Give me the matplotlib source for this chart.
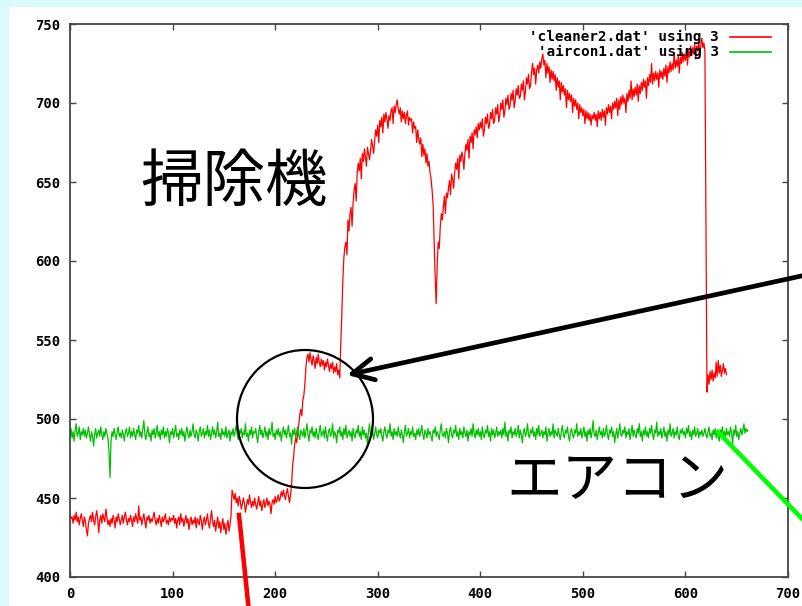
import numpy as np
import matplotlib.pyplot as plt
from matplotlib.patches import Ellipse, Rectangle, FancyArrowPatch
from matplotlib.lines import Line2D

# column 3 of cleaner2.dat, one sample per step
cleaner = [
    # idle
    440, 437, 438, 434, 439, 436, 441, 435, 438, 433, 437, 440, 436, 432, 438, 435, 430, 426, 434, 437,
    439, 435, 441, 436, 433, 438, 442, 437, 428, 436, 439, 434, 440, 437, 435, 443, 438, 433, 436, 432,
    437, 434, 439, 436, 431, 438, 435, 440, 437, 433, 436, 439, 434, 438, 441, 436, 433, 437, 435, 439,
    436, 432, 438, 435, 440, 437, 434, 445, 436, 438, 433, 437, 440, 435, 431, 438, 436, 439, 434, 437,
    435, 438, 441, 436, 433, 437, 434, 439, 436, 432, 438, 435, 437, 440, 434, 436, 433, 438, 435, 437,
    436, 439, 434, 437, 431, 436, 438, 433, 440, 435, 437, 432, 436, 439, 434, 437, 430, 435, 438, 433,
    436, 434, 438, 431, 437, 435, 433, 439, 436, 430, 435, 438, 433, 436, 440, 434, 431, 437, 442, 435,
    432, 436, 429, 434, 438, 431, 435, 428, 433, 437, 430, 434, 427, 432, 436, 429, 433, 439,
    # switched on
    455, 452, 449, 453, 447, 450, 445, 451, 448, 443, 446, 450, 447, 441, 445, 449, 446, 452, 447, 444,
    448, 445, 450, 446, 443, 447, 451, 445, 448, 442, 446, 449, 444, 447, 450, 445, 448, 446, 440, 447,
    449, 446, 451, 447, 449, 452, 448, 450, 454, 451, 455, 452, 449, 453, 456, 451, 447, 452, 458,
    470, 476, 484, 488, 485, 491, 496, 503, 506, 502, 512, 515, 522, 533, 539,
    541, 536, 542, 538, 534, 540, 537, 532, 539, 535, 541, 536, 533, 538, 534, 537, 531, 536, 533, 538,
    534, 530, 535, 532, 536, 529, 533, 530, 535, 528, 531, 526,
    # full power
    548, 566, 588, 602, 609, 612, 604, 626, 619, 630, 634, 622, 637, 645, 649, 638, 656, 662,
    657, 665, 652, 668, 663, 671, 666, 660, 672, 668, 664, 670, 677, 673, 668, 676, 683, 679, 686, 675, 689,
    685, 691, 681, 693, 688, 694, 690, 684, 692, 689, 695, 697, 687, 698, 694, 699, 702, 696,
    693, 697, 688, 695, 690, 694, 687, 692, 695, 686, 691, 689, 690, 681, 688, 684, 685, 675, 683, 677,
    674, 678, 666, 674, 667, 671, 662, 668, 660, 663, 656, 652, 645, 636, 612, 590,
    573,
    598, 612, 608, 622, 630, 626, 634, 641, 630, 643, 640, 646, 651, 642, 655, 652, 646, 656, 662, 658,
    665, 652, 667,
    663, 669, 666, 658, 668, 674, 670, 677, 665, 679, 675, 681, 671, 683, 680, 685, 678, 687, 683, 688,
    684, 690, 679, 683, 691, 687, 693, 684, 686, 694, 690, 696, 687, 689, 697, 693, 699, 688, 692, 700,
    696, 702, 691, 695, 703, 699, 705, 696, 698, 706,
    702, 708, 697, 701, 709, 705, 711, 703, 704, 712, 708, 714, 702, 707, 716, 712, 718, 709, 711, 720,
    725, 718, 722, 712, 721, 724, 719, 726, 722, 728, 731, 724, 727, 716, 725, 719, 723, 713, 721, 715,
    720, 714, 718, 708, 716, 710, 714, 702, 713, 707, 711, 705, 709, 697, 708, 702, 706, 701, 705, 694,
    703, 698, 702, 696, 700, 690, 699, 694, 697, 692, 696, 687, 695, 690, 694, 689, 693, 686, 692, 690,
    694, 689, 693, 685, 695, 690, 694, 689, 696, 691, 695, 686, 697, 693, 699, 694, 698, 690, 700, 696,
    701, 697, 703, 692, 702, 696, 704, 699, 705, 700, 703, 694, 706, 701, 708, 703, 714, 702, 709, 704,
    710, 705, 712, 701, 711, 706, 713, 708, 715, 710, 714, 703, 716, 711, 718, 713, 725, 712, 719, 714,
    720, 715, 719, 710, 721, 716, 720, 715, 722, 717, 724, 713, 723, 719, 726, 720, 725, 721, 732, 722,
    727, 723, 730, 719, 729, 725, 732, 726, 731, 727, 734, 724, 733, 729, 736, 730, 735, 731, 738, 728,
    736, 733, 739, 730, 737, 741, 735, 738, 733,
    # switched off
    627,
    517, 528, 522, 530, 525, 531, 524, 529, 526, 536, 527, 537, 529, 534, 527, 531, 535, 529, 532, 528,
]

# column 3 of aircon1.dat
aircon = [
    490, 494, 488, 492, 486, 493, 497, 489, 491, 495, 487, 492, 490, 494, 489, 493, 488, 491, 495, 490,
    486, 492, 489, 483, 490, 494, 488, 491, 493, 489, 495, 490, 487, 492, 489, 494, 491, 488, 480, 463,
    486, 492, 489, 494, 490, 487, 492, 495, 489, 491, 488, 493, 490, 486, 492, 494, 489, 491, 495, 488,
    492, 489, 494, 490, 487, 493, 491, 496, 489, 492, 488, 494, 499, 490, 487, 492, 495, 489, 491, 486,
    493, 490, 494, 488, 491, 496, 489, 492, 487, 493, 490, 495, 488, 492, 489, 494, 491, 485, 492, 490,
    494, 488, 492, 496, 489, 491, 487, 493, 490, 494, 489, 492, 486, 491, 495, 490, 488, 493, 489, 492,
    497, 490, 488, 493, 491, 486, 492, 495, 489, 491, 494, 488, 492, 490, 496, 489, 493, 487, 491, 495,
    490, 493, 488, 492, 498, 489, 491, 487, 494, 490, 492, 489, 495, 488, 491, 493, 486, 492, 490, 494,
    489, 492, 496, 490, 487, 493, 491, 494, 488, 492, 490, 497, 489, 491, 486, 493, 490, 495, 488, 492,
    491, 494, 489, 485, 492, 496, 490, 493, 488, 491, 495, 489, 492, 487, 494, 490, 492, 498, 489, 491,
    487, 493, 490, 494, 489, 492, 486, 491, 495, 490, 493, 488, 492, 496, 489, 491, 484, 493, 490, 494,
    488, 492, 495, 490, 487, 493, 491, 489, 494, 488, 492, 497, 490, 486, 493, 491, 495, 489, 492, 488,
    494, 490, 487, 492, 496, 489, 491, 493, 488, 495, 490, 486, 492, 494, 489, 491, 497, 488, 492, 490,
    485, 493, 491, 495, 489, 492, 487, 494, 490, 496, 488, 491, 493, 489, 492, 486, 494, 490, 488, 493,
    491, 496, 489, 492, 487, 495, 490, 493, 488, 491, 484, 492, 497, 490, 489, 493, 487, 491, 495, 490,
    488, 493, 491, 494, 489, 486, 492, 495, 490, 488, 493, 491, 497, 489, 492, 487, 494, 490, 492, 489,
    495, 491, 488, 493, 490, 485, 492, 496, 489, 491, 494, 488, 492, 490, 495, 489, 491, 487, 493, 490,
    494, 489, 492, 496, 490, 487, 493, 491, 488, 494, 490, 492, 489, 486, 493, 491, 495, 489, 492, 490,
    487, 493, 497, 490, 489, 492, 488, 494, 491, 485, 492, 495, 490, 488, 493, 491, 496, 489, 492, 487,
    494, 490, 492, 488, 495, 491, 489, 493, 486, 492, 490, 494, 489, 497, 491, 488, 493, 490, 494, 489,
    492, 487, 495, 490, 488, 493, 491, 496, 489, 492, 486, 494, 490, 493, 488, 491, 495, 489, 492, 490,
    493, 488, 494, 490, 498, 489, 492, 486, 493, 491, 495, 488, 492, 490, 494, 489, 491, 496, 488, 493,
    490, 485, 492, 494, 489, 491, 497, 490, 488, 493, 491, 495, 489, 492, 487, 494, 490, 496, 489, 491,
    493, 488, 492, 490, 495, 486, 491, 494, 489, 492, 490, 497, 488, 493, 491, 489, 494, 490, 487, 492,
    496, 490, 488, 493, 491, 495, 489, 486, 492, 494, 490, 488, 493, 491, 497, 489, 492, 490, 494, 488,
    491, 495, 489, 492, 486, 493, 490, 494, 488, 492, 499, 490, 489, 493, 487, 491, 495, 490, 492, 488,
    494, 489, 491, 496, 490, 487, 493, 491, 495, 489, 492, 485, 490, 494, 488, 492, 497, 490, 489, 493,
    491, 495, 488, 492, 490, 494, 487, 491, 496, 489, 493, 490, 488, 494, 491, 497, 489, 492, 486, 493,
    490, 495, 489, 492, 488, 494, 491, 496, 490, 487, 493, 491, 498, 489, 492, 490, 494, 488, 491, 495,
    489, 492, 486, 493, 490, 497, 489, 491, 494, 488, 492, 490, 495, 489, 487, 493, 491, 494, 490, 492,
    488, 494, 491, 496, 489, 492, 487, 493, 490, 495, 489, 491, 494, 488, 492, 490, 493, 489, 491, 494,
    490, 488, 492, 495, 489, 491, 487, 493, 490, 494, 488, 492, 489, 486, 493, 491, 495, 489, 492, 488,
    494, 490, 492, 489, 495, 491, 484, 493, 490, 496, 489, 492, 487, 491, 494, 490, 493, 497, 491, 494,
    492, 493,
]

labels = ["'cleaner2.dat' using 3", "'aircon1.dat' using 3"]
colors = ["#ff0000", "#00c000"]

W, H = 803, 606
def fx(px):
    return px / W
def fy(py):
    return 1 - py / H

fig = plt.figure(figsize=(W / 100, H / 100), dpi=100, facecolor="#d9fbfd")
fig.add_artist(Rectangle((fx(9), 0), 1, fy(7), transform=fig.transFigure,
                         facecolor="white", edgecolor="none", zorder=-1))

ax = fig.add_axes([fx(70), fy(577), 718 / W, 553 / H])
tick_font = dict(family="DejaVu Sans Mono", weight="bold", size=10)

for series, c in zip([cleaner, aircon], colors):
    ax.plot(np.arange(len(series)), series, color=c, lw=0.9)

ax.set_xlim(0, 700)
ax.set_ylim(400, 750)
ax.set_xticks(np.arange(0, 701, 100))
ax.set_yticks(np.arange(400, 751, 50))
ax.tick_params(direction="in", length=4, width=1, color="#454545",
               top=True, right=True, pad=7)
for lab in ax.get_xticklabels() + ax.get_yticklabels():
    lab.set(**tick_font)
for sp in ax.spines.values():
    sp.set_color("#454545")
    sp.set_linewidth(1.3)

# gnuplot style key in the top right
for i, (lab, c) in enumerate(zip(labels, colors)):
    yk = 37 + 15 * i
    fig.text(fx(719), fy(yk), lab, ha="right", va="center",
             family="DejaVu Sans Mono", weight="bold", size=10.3)
    fig.add_artist(Line2D([fx(730), fx(771)], [fy(yk), fy(yk)],
                          transform=fig.transFigure, color=c, lw=1.2))

jp = "Noto Sans CJK JP"
fig.text(fx(234), fy(183), "掃除機", ha="center", va="center", family=jp, size=45)
fig.text(fx(617), fy(481), "エアコン", ha="center", va="center", family=jp, size=40)

# circle around the step and the pointers
fig.add_artist(Ellipse((fx(305), fy(419)), 136 / W, 138 / H, transform=fig.transFigure,
                       fill=False, ec="black", lw=1.6))
fig.add_artist(FancyArrowPatch((fx(815), fy(273)), (fx(347), fy(375)),
                               transform=fig.transFigure, arrowstyle="->,head_length=0.7,head_width=0.35",
                               mutation_scale=22, lw=3.4, color="black",
                               shrinkA=0, shrinkB=0))
fig.add_artist(Line2D([fx(239), fx(249)], [fy(515), fy(612)], transform=fig.transFigure,
                      color="#ff0000", lw=3.3))
fig.add_artist(Line2D([fx(718), fx(810)], [fy(432), fy(527)], transform=fig.transFigure,
                      color="#00ff00", lw=3.3))

fig.savefig("out.png", dpi=100, facecolor=fig.get_facecolor())
